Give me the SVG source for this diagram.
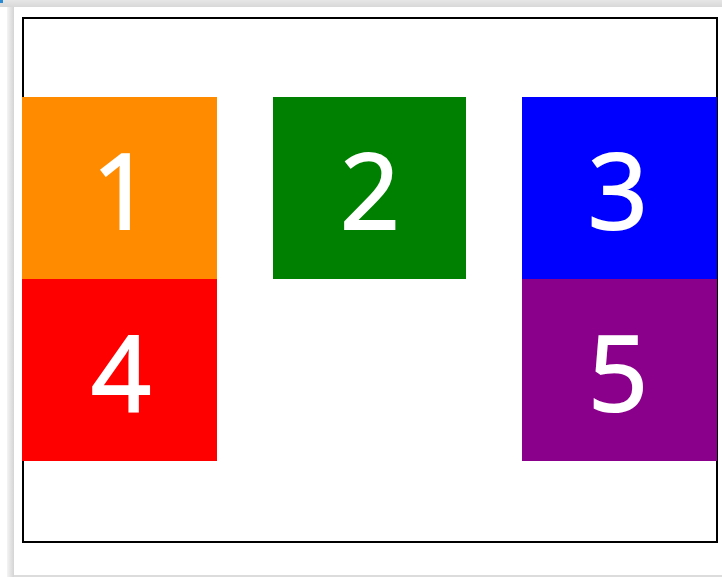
<svg xmlns="http://www.w3.org/2000/svg" width="722" height="577" viewBox="0 0 722 577">
<defs>
<linearGradient id="sh" x1="0" x2="1" y1="0" y2="0"><stop offset="0" stop-color="#f4f4f4"/><stop offset="1" stop-color="#d4d4d4"/></linearGradient>
<linearGradient id="tp" x1="0" x2="0" y1="0" y2="1"><stop offset="0" stop-color="#e6e6e6"/><stop offset="1" stop-color="#d8d8d8"/></linearGradient>
<style>
.num{font-family:"Open Sans","Liberation Sans",sans-serif;font-size:105px;fill:#fff;stroke:#fff;stroke-width:2;text-anchor:middle}
</style>
</defs>
<rect width="722" height="577" fill="#fff"/>
<rect x="0" y="0" width="722" height="7" fill="url(#tp)"/>
<rect x="7" y="7" width="7" height="570" fill="url(#sh)"/>
<rect x="0" y="0" width="3" height="3" fill="#2a8ad4"/>
<rect x="14" y="575" width="708" height="2" fill="#dcdcdc"/>
<rect x="23" y="18" width="694" height="524" fill="#fff" stroke="#000" stroke-width="2"/>
<g id="connectors"/>
<g id="n1"><rect x="22" y="97" width="195" height="182" fill="#ff8c00"/><text class="num" x="122" y="229">1</text></g>
<g id="n2"><rect x="273" y="97" width="193" height="182" fill="#008000"/><text class="num" x="370" y="229">2</text></g>
<g id="n3"><rect x="522" y="97" width="195" height="182" fill="#0000ff"/><text class="num" x="618" y="229">3</text></g>
<g id="n4"><rect x="22" y="279" width="195" height="182" fill="#ff0000"/><text class="num" x="121" y="411">4</text></g>
<g id="n5"><rect x="522" y="279" width="195" height="182" fill="#8b008b"/><text class="num" x="618" y="411">5</text></g>
</svg>
